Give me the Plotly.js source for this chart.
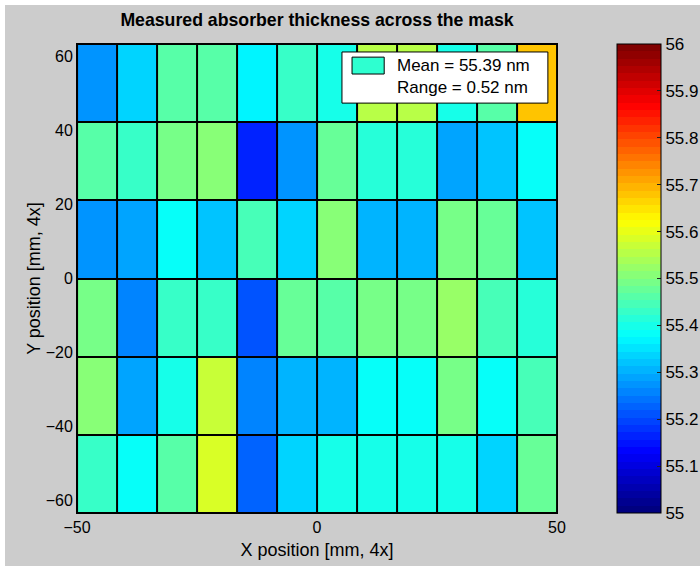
<!DOCTYPE html>
<html><head><meta charset="utf-8">
<script src="https://cdn.plot.ly/plotly-3.0.1.min.js"></script>
<style>html,body{margin:0;padding:0;background:#fff;overflow:hidden;width:700px;height:566px;}#chart{position:absolute;left:5px;top:5px;width:735px;height:561px;}</style>
</head><body><div id="chart"></div><script>
// Column centres (X position, mm) and row centres (Y position, mm), top row first
const xCenters = [-45.83, -37.5, -29.17, -20.83, -12.5, -4.17, 4.17, 12.5, 20.83, 29.17, 37.5, 45.83];
const yCenters = [52.75, 31.65, 10.55, -10.55, -31.65, -52.75];
// Measured absorber thickness (nm), one array per row, top to bottom
const rowY53  = [55.275, 55.342, 55.458, 55.458, 55.360, 55.425, 55.392, 55.558, 55.558, 55.392, 55.458, 55.675];
const rowY32  = [55.458, 55.425, 55.490, 55.515, 55.158, 55.275, 55.475, 55.408, 55.408, 55.292, 55.325, 55.375];
const rowY11  = [55.275, 55.292, 55.375, 55.325, 55.442, 55.342, 55.500, 55.308, 55.308, 55.490, 55.475, 55.325];
const rowYm11 = [55.490, 55.258, 55.425, 55.425, 55.208, 55.475, 55.458, 55.490, 55.490, 55.520, 55.442, 55.408];
const rowYm32 = [55.508, 55.292, 55.392, 55.575, 55.258, 55.308, 55.308, 55.375, 55.375, 55.490, 55.375, 55.442];
const rowYm53 = [55.425, 55.375, 55.458, 55.580, 55.225, 55.342, 55.392, 55.392, 55.392, 55.392, 55.342, 55.475];
const xTicks = [-50, 0, 50];
const yTicks = [-60, -40, -20, 0, 20, 40, 60];
const cbarTicks = [55, 55.1, 55.2, 55.3, 55.4, 55.5, 55.6, 55.7, 55.8, 55.9, 56];
const meanLabel = 'Mean = 55.39 nm';
const rangeLabel = 'Range = 0.52 nm';

const rows = [rowY53, rowY32, rowY11, rowYm11, rowYm32, rowYm53];

// MATLAB-style 64 level jet colormap
function jet(t) {
  const f = v => Math.round(255 * Math.max(0, Math.min(1, v)));
  return 'rgb(' + f(1.5 - Math.abs(4 * t - 3)) + ',' + f(1.5 - Math.abs(4 * t - 2)) + ',' + f(1.5 - Math.abs(4 * t - 1)) + ')';
}
const N = 64, jetScale = [];
for (let i = 0; i < N; i++) {
  const c = jet(i / (N - 1));
  jetScale.push([i / N, c], [(i + 1) / N, c]);
}

const trace = {
  type: 'heatmap',
  x: xCenters,
  y: yCenters.slice().reverse(),
  z: rows.slice().reverse(),
  zmin: 55, zmax: 56,
  colorscale: jetScale,
  xgap: 2, ygap: 2,
  hoverongaps: false,
  colorbar: {
    x: 1.125, xanchor: 'left', xpad: 0,
    y: 0.5, yanchor: 'middle', len: 1, lenmode: 'fraction', ypad: 0,
    thickness: 44, thicknessmode: 'pixels',
    outlinecolor: '#000', outlinewidth: 1,
    tickvals: cbarTicks, ticks: 'inside', ticklen: 4, tickcolor: '#222',
    tickfont: { size: 17 }
  }
};

const layout = {
  paper_bgcolor: '#cccccc',
  plot_bgcolor: '#000000',
  margin: { l: 72, r: 183, t: 39, b: 53 },
  font: { family: 'Liberation Sans, Arial, sans-serif', size: 16, color: '#000' },
  title: {
    text: '<b>Measured absorber thickness across the mask</b>',
    font: { size: 17.7 },
    xref: 'paper', x: 0.5, xanchor: 'center',
    yref: 'container', y: 1 - 15 / 561, yanchor: 'middle'
  },
  xaxis: {
    range: [-50, 50], tickvals: xTicks, ticks: '', showgrid: false, zeroline: false,
    showline: true, mirror: true, linecolor: '#000', linewidth: 1,
    title: { text: 'X position [mm, 4x]', font: { size: 18 }, standoff: 8 }
  },
  yaxis: {
    range: [-63.3, 63.3], tickvals: yTicks, ticks: '', showgrid: false, zeroline: false,
    showline: true, mirror: true, linecolor: '#000', linewidth: 1,
    title: { text: 'Y position [mm, 4x]', font: { size: 18 }, standoff: 0 }
  },
  shapes: [
    { type: 'rect', xref: 'paper', yref: 'paper', x0: 0.552, x1: 0.981, y0: 0.874, y1: 0.983,
      fillcolor: '#ffffff', line: { color: '#000', width: 1 } },
    { type: 'rect', xref: 'paper', yref: 'paper', x0: 0.573, x1: 0.640, y0: 0.936, y1: 0.972,
      fillcolor: '#2effd0', line: { color: '#000', width: 1 } }
  ],
  annotations: [
    { xref: 'paper', yref: 'paper', x: 0.6625, y: 0.955, xanchor: 'left', yanchor: 'middle',
      text: meanLabel, showarrow: false, font: { size: 17 } },
    { xref: 'paper', yref: 'paper', x: 0.6625, y: 0.908, xanchor: 'left', yanchor: 'middle',
      text: rangeLabel, showarrow: false, font: { size: 17 } }
  ]
};

Plotly.newPlot('chart', [trace], layout, { displayModeBar: false, staticPlot: true });
</script></body></html>
